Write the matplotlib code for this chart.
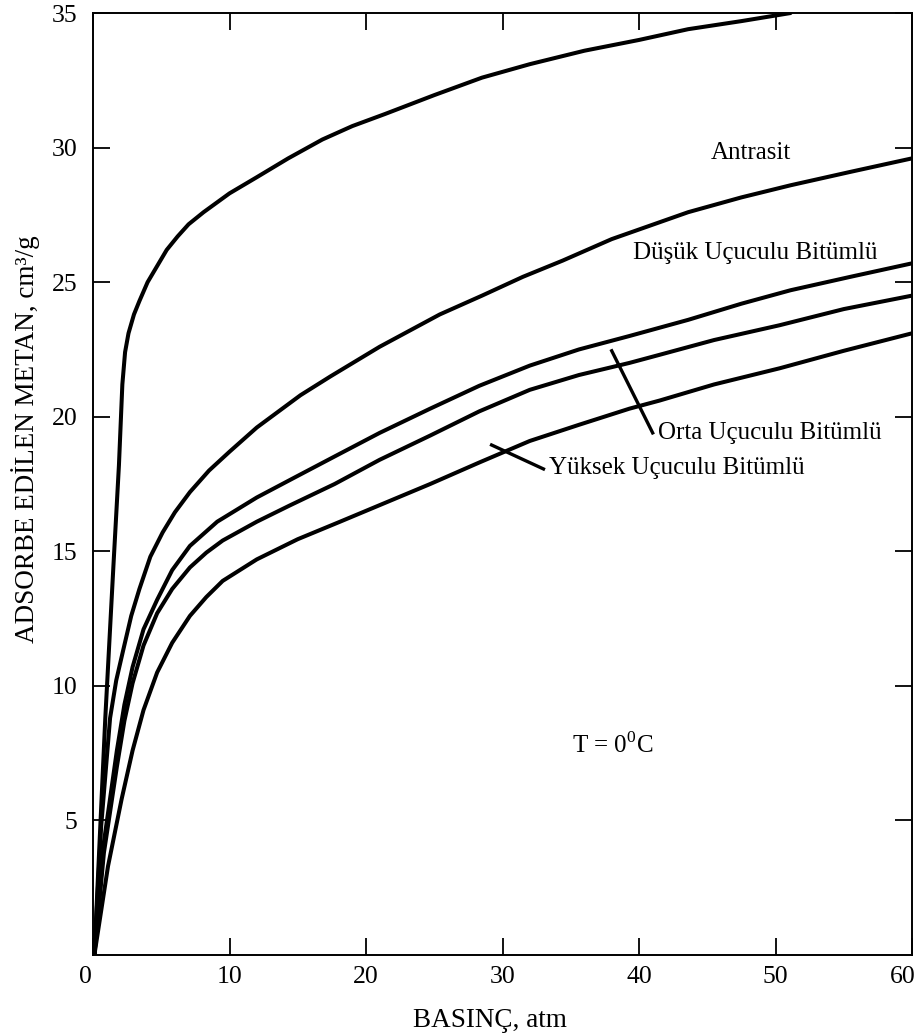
import matplotlib
matplotlib.use("Agg")
import matplotlib.pyplot as plt
import matplotlib.transforms as mtransforms

# ── Fonts ─────────────────────────────────────────────────────────────────────
plt.rcParams["font.family"] = ["Liberation Serif", "DejaVu Serif"]
plt.rcParams["mathtext.fontset"] = "custom"
plt.rcParams["mathtext.rm"] = "Liberation Serif"

antrasit_x = [0.1, 0.9, 1.5, 1.9, 2.05, 2.15, 2.35, 2.6, 3.0, 3.4, 4.0, 4.7,
              5.4, 6.2, 7.0, 8.1, 10.0, 12.0, 14.3, 16.8, 19.0, 21.4, 25.0,
              28.5, 32.0, 36.0, 40.0, 43.6, 47.5, 51.1]
antrasit_y = [0.0, 8.8, 14.5, 18.2, 20.0, 21.2, 22.4, 23.1, 23.8, 24.3, 25.0,
              25.6, 26.2, 26.7, 27.15, 27.6, 28.3, 28.9, 29.6, 30.3, 30.8,
              31.25, 31.95, 32.6, 33.1, 33.6, 34.0, 34.4, 34.7, 35.0]

dusuk_x = [0.1, 0.6, 1.25, 1.7, 2.2, 2.8, 3.4, 4.2, 5.1, 6.0, 7.1, 8.5, 10.0,
           12.0, 15.2, 17.4, 21.0, 25.4, 28.5, 31.5, 34.4, 38.0, 43.6, 47.5,
           51.1, 55.5, 60.0]
dusuk_y = [0.0, 4.8, 8.8, 10.2, 11.3, 12.6, 13.6, 14.8, 15.7, 16.45, 17.2,
           18.0, 18.7, 19.6, 20.8, 21.5, 22.6, 23.8, 24.5, 25.2, 25.8, 26.6,
           27.6, 28.15, 28.6, 29.1, 29.6]

orta_x = [0.1, 0.8, 1.75, 2.3, 2.9, 3.7, 4.7, 5.8, 7.1, 9.1, 12.0, 14.8, 17.8,
          21.0, 24.7, 28.3, 32.0, 35.6, 39.3, 43.6, 47.5, 51.1, 55.5, 60.0]
orta_y = [0.0, 4.2, 7.6, 9.3, 10.7, 12.1, 13.2, 14.3, 15.2, 16.1, 17.0, 17.75,
          18.55, 19.4, 20.3, 21.15, 21.9, 22.5, 23.0, 23.6, 24.2, 24.7, 25.2,
          25.7]

orta2_x = [0.1, 0.8, 1.75, 2.3, 2.9, 3.7, 4.7, 5.8, 7.1, 8.3, 9.5, 12.0, 14.4,
           17.7, 21.0, 24.7, 28.3, 32.0, 35.6, 39.3, 41.5, 45.5, 50.3, 55.0,
           60.0]
orta2_y = [0.0, 3.8, 7.0, 8.7, 10.1, 11.5, 12.7, 13.6, 14.4, 14.95, 15.4, 16.1,
           16.7, 17.5, 18.4, 19.3, 20.2, 21.0, 21.55, 22.0, 22.3, 22.85, 23.4,
           24.0, 24.5]

yuksek_x = [0.1, 1.1, 2.1, 2.9, 3.7, 4.7, 5.8, 7.1, 8.3, 9.5, 12.0, 15.0,
            18.1, 21.4, 24.7, 28.3, 32.0, 35.6, 39.3, 41.5, 45.5, 50.3, 55.0,
            60.0]
yuksek_y = [0.0, 3.3, 5.8, 7.6, 9.1, 10.5, 11.6, 12.6, 13.3, 13.9, 14.7,
            15.45, 16.1, 16.8, 17.5, 18.3, 19.1, 19.7, 20.3, 20.6, 21.2, 21.8,
            22.45, 23.1]

x_ticks = [0, 10, 20, 30, 40, 50, 60]
y_ticks = [5, 10, 15, 20, 25, 30, 35]

# ── Figure ────────────────────────────────────────────────────────────────────
fig = plt.figure(figsize=(9.19, 10.35), dpi=100)
ax = fig.add_axes([0.1012, 0.0773, 0.8912, 0.9101])

LW = 2.9
for xs, ys in [(antrasit_x, antrasit_y), (dusuk_x, dusuk_y), (orta_x, orta_y),
               (orta2_x, orta2_y), (yuksek_x, yuksek_y)]:
    ax.plot(xs, ys, color="black", lw=LW, solid_capstyle="round",
            solid_joinstyle="round")

ax.set_xlim(0, 60)
ax.set_ylim(0, 35)
ax.set_xticks(x_ticks)
ax.set_yticks(y_ticks)
ax.tick_params(direction="in", length=12, width=1.3, top=True, right=True,
               labelsize=18.5, colors="black")
ax.tick_params(axis="x", pad=8)
ax.tick_params(axis="y", pad=11)
for sp in ax.spines.values():
    sp.set_linewidth(1.4)

# nudge the corner labels inward like the scan
labels = ax.get_xticklabels()
labels[0].set_transform(labels[0].get_transform() +
                        mtransforms.ScaledTranslation(-8 / 100, 0, fig.dpi_scale_trans))
labels[-1].set_transform(labels[-1].get_transform() +
                         mtransforms.ScaledTranslation(-9 / 100, 0, fig.dpi_scale_trans))

ax.set_xlabel("BASINÇ, atm", fontsize=19.5)
ax.xaxis.set_label_coords(0.485, -0.056)
ax.set_ylabel("ADSORBE EDİLEN METAN, cm³/g", fontsize=19.5)
ax.yaxis.set_label_coords(-0.065, 0.548)

# ── Labels and leader lines ───────────────────────────────────────────────────
fs = 18
ax.text(48.2, 29.8, "Antrasit", fontsize=fs, ha="center", va="center")
ax.text(48.5, 26.1, "Düşük Uçuculu Bitümlü", fontsize=fs, ha="center", va="center")
ax.text(41.4, 19.4, "Orta Uçuculu Bitümlü", fontsize=fs, ha="left", va="center")
ax.text(33.4, 18.1, "Yüksek Uçuculu Bitümlü", fontsize=fs, ha="left", va="center")
ax.plot([38.0, 41.0], [22.45, 19.4], color="black", lw=2.4)
ax.plot([29.2, 33.0], [18.95, 18.06], color="black", lw=2.4)
ax.text(38.1, 7.8, r"T = 0$^{0}$C", fontsize=fs, ha="center", va="center")

fig.savefig("out.png", dpi=100)
